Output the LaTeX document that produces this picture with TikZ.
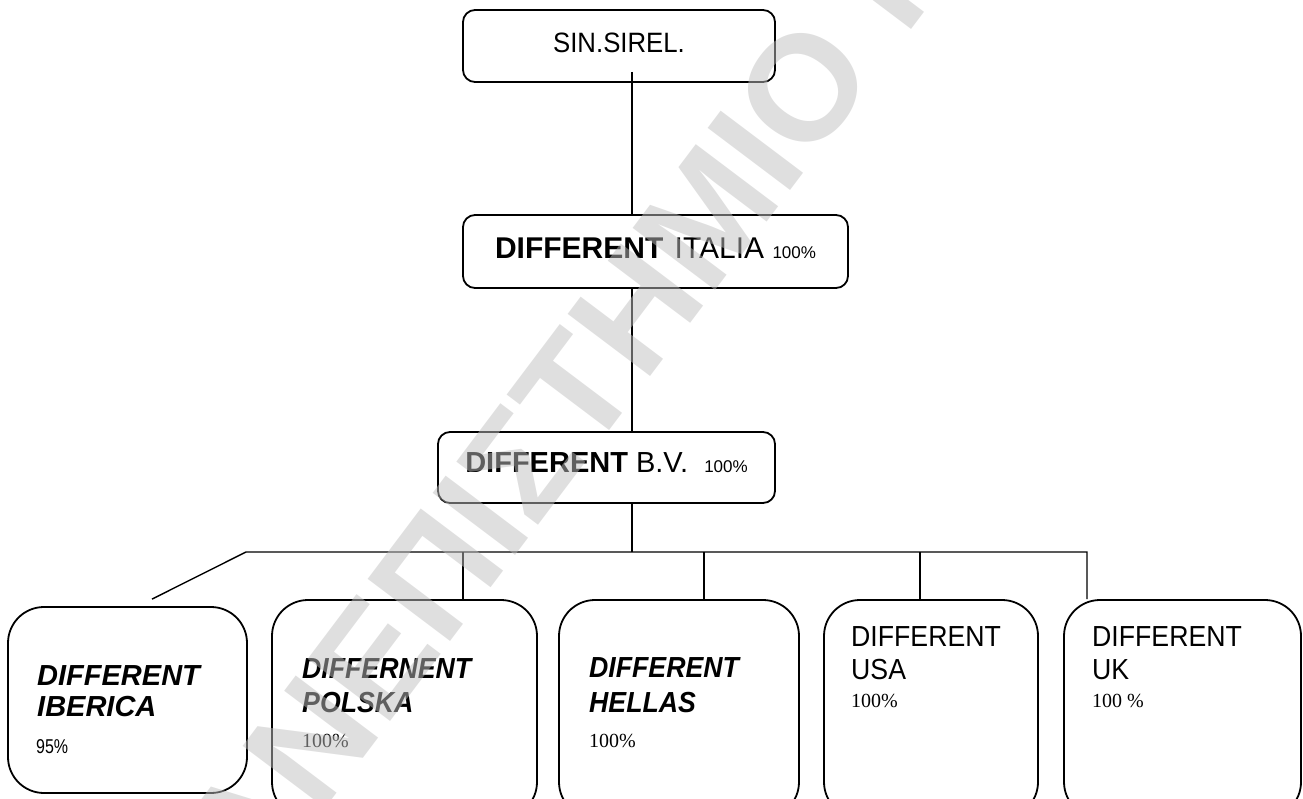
\documentclass[tikz,border=0pt]{standalone}
\usepackage{fontspec}
\setmainfont{Liberation Sans}
\newfontfamily\tnrfont{Liberation Serif}
\newfontfamily\condfont[FakeStretch=0.92]{Liberation Sans}
\newfontfamily\narrowfont[FakeStretch=0.8]{Liberation Sans}
\usetikzlibrary{calc}
\definecolor{wmgray}{gray}{0.75}
\begin{document}
\begin{tikzpicture}[x=1pt,y=-1pt,
  topbox/.style={draw, line width=1.8pt, rounded corners=12pt, inner sep=0pt},
  subbox/.style={draw, line width=1.8pt, rounded corners=36pt, inner sep=0pt},
  link/.style={line width=1.4pt},
  lbl/.style={inner sep=0pt, anchor=base},
  lblw/.style={inner sep=0pt, anchor=base west},
  bigf/.style={font=\fontsize{29}{29}\selectfont},
  condf/.style={font=\condfont\fontsize{29}{29}\selectfont},
  pctf/.style={font=\tnrfont\fontsize{20}{20}\selectfont},
  wm/.style={rotate=53, inner sep=0pt, text=wmgray, text opacity=0.5, font=\bfseries\fontsize{150}{150}\selectfont}]
\useasboundingbox (0,0) rectangle (1303,798);
\begin{scope}
\clip (0,0) rectangle (1303,798);
% boxes
\node[topbox, minimum width=312pt, minimum height=72pt] (sin) at (619,46) {};
\node[topbox, minimum width=385pt, minimum height=73pt] (italia) at (655.5,251.5) {};
\node[topbox, minimum width=337pt, minimum height=71pt] (bv) at (606.5,467.5) {};
\node[subbox, minimum width=239pt, minimum height=186pt] (iberica) at (127.5,700) {};
\node[subbox, minimum width=265pt, minimum height=218pt] (polska) at (404.5,709) {};
\node[subbox, minimum width=240pt, minimum height=218pt] (hellas) at (679,709) {};
\node[subbox, minimum width=214pt, minimum height=218pt] (usa) at (931,709) {};
\node[subbox, minimum width=237pt, minimum height=218pt] (uk) at (1182.5,709) {};
% coordinates
\coordinate (tx) at (632,0);
\coordinate (barL) at (246,552);
\coordinate (barR) at (1087,552);
\coordinate (dp) at (463,552);
\coordinate (dh) at (704,552);
\coordinate (du) at (920,552);
% connectors
\draw[link] (sin.south -| tx) ++(0,-11) -- (italia.north -| tx);
\draw[link] (italia.south -| tx) -- (bv.north -| tx);
\draw[link] (bv.south -| tx) -- (barL -| tx);
\draw[link] ($(iberica.north)+(24.5,-7)$) -- (barL) -- (barR) -- (barR |- uk.north);
\draw[link] (dp) -- (dp |- polska.north);
\draw[link] (dh) -- (dh |- hellas.north);
\draw[link] (du) -- (du |- usa.north);
% top labels
\node[lbl, font=\condfont\fontsize{28}{28}\selectfont] (sint) at (619,52) {SIN.SIREL.};
\node[lbl] (italiat) at (655.5,258) {\fontsize{30}{30}\selectfont\bfseries DIFFERENT\hspace{3pt} \mdseries ITALIA \fontsize{17}{17}\selectfont 100\%};
\node[lbl] (bvt) at (606.5,472) {\fontsize{29}{29}\selectfont\bfseries DIFFERENT \mdseries B.V.\hspace{8pt} \fontsize{17}{17}\selectfont 100\%};
% Iberica
\node[lblw, bigf] (ib1) at (37,685) {\bfseries\itshape DIFFERENT};
\node[lblw, bigf] (ib2) at (37,716) {\bfseries\itshape IBERICA};
\node[lblw, font=\narrowfont\fontsize{20}{20}\selectfont] (ib3) at (36,753) {95\%};
% Polska
\node[lblw, condf] (po1) at (302,678) {\bfseries\itshape DIFFERNENT};
\node[lblw, condf] (po2) at (302,712) {\bfseries\itshape POLSKA};
\node[lblw, pctf] (po3) at (302,747) {100\%};
% Hellas
\node[lblw, condf] (he1) at (589,677) {\bfseries\itshape DIFFERENT};
\node[lblw, condf] (he2) at (589,712) {\bfseries\itshape HELLAS};
\node[lblw, pctf] (he3) at (589,747) {100\%};
% USA
\node[lblw, condf] (us1) at (851,646) {DIFFERENT};
\node[lblw, condf] (us2) at (851,679) {USA};
\node[lblw, pctf] (us3) at (851,707) {100\%};
% UK
\node[lblw, condf] (uk1) at (1092,646) {DIFFERENT};
\node[lblw, condf] (uk2) at (1092,679) {UK};
\node[lblw, pctf] (uk3) at (1092,707) {100 \%};
% watermark
\node[wm, anchor=base east] (wm1) at (880,72) {ΠΑΝΕΠΙΣΤΗΜΙΟ};
\node[wm, anchor=base west] (wm2) at (905,38) {Π};
\end{scope}
\end{tikzpicture}
\end{document}
